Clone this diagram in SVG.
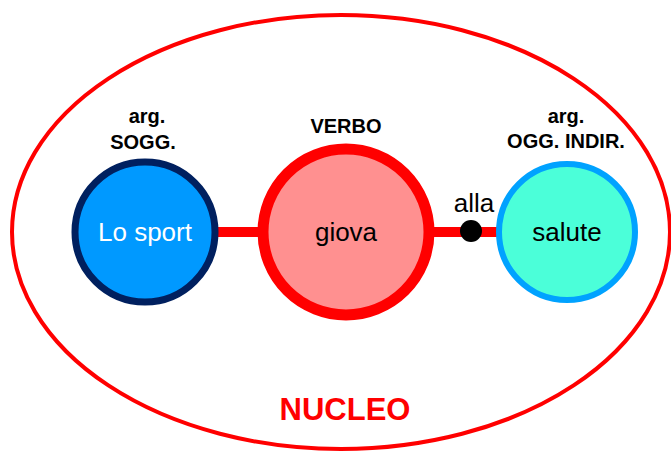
<svg xmlns="http://www.w3.org/2000/svg" width="671" height="452" viewBox="0 0 671 452">
<style>
.lbl{font-family:"Liberation Sans",Arial,sans-serif;font-weight:bold;font-size:20px;fill:#000;text-anchor:middle}
.in{font-family:"Liberation Sans",Arial,sans-serif;font-size:26px;text-anchor:middle}
</style>
<rect width="671" height="452" fill="#fff"/>
<g id="nucleo">
<ellipse cx="341" cy="232" rx="329" ry="217" fill="none" stroke="#ff0000" stroke-width="4"/>
<text x="345" y="420" font-family="Liberation Sans,Arial,sans-serif" font-weight="bold" font-size="31" fill="#ff0000" text-anchor="middle">NUCLEO</text>
</g>
<g id="connectors">
<line x1="215" y1="232" x2="260" y2="232" stroke="#ff0000" stroke-width="10"/>
<line x1="430" y1="232" x2="500" y2="232" stroke="#ff0000" stroke-width="10"/>
<circle cx="471" cy="231" r="11" fill="#000"/>
<text x="474" y="212" class="in" fill="#000">alla</text>
</g>
<g id="sogg">
<circle cx="145" cy="232" r="70" fill="#0099ff" stroke="#00205f" stroke-width="7"/>
<text x="145" y="241" class="in" fill="#fff">Lo sport</text>
<text x="147" y="123" class="lbl">arg.</text>
<text x="143" y="149" class="lbl">SOGG.</text>
</g>
<g id="verbo">
<circle cx="346" cy="232" r="83" fill="#ff9090" stroke="#ff0000" stroke-width="11"/>
<text x="346" y="241" class="in" fill="#000">giova</text>
<text x="346" y="133" class="lbl">VERBO</text>
</g>
<g id="oggindir">
<circle cx="567" cy="232" r="68" fill="#4bffd9" stroke="#00a2ff" stroke-width="6"/>
<text x="567" y="241" class="in" fill="#000">salute</text>
<text x="566" y="123" class="lbl">arg.</text>
<text x="566" y="148" class="lbl">OGG. INDIR.</text>
</g>
</svg>
